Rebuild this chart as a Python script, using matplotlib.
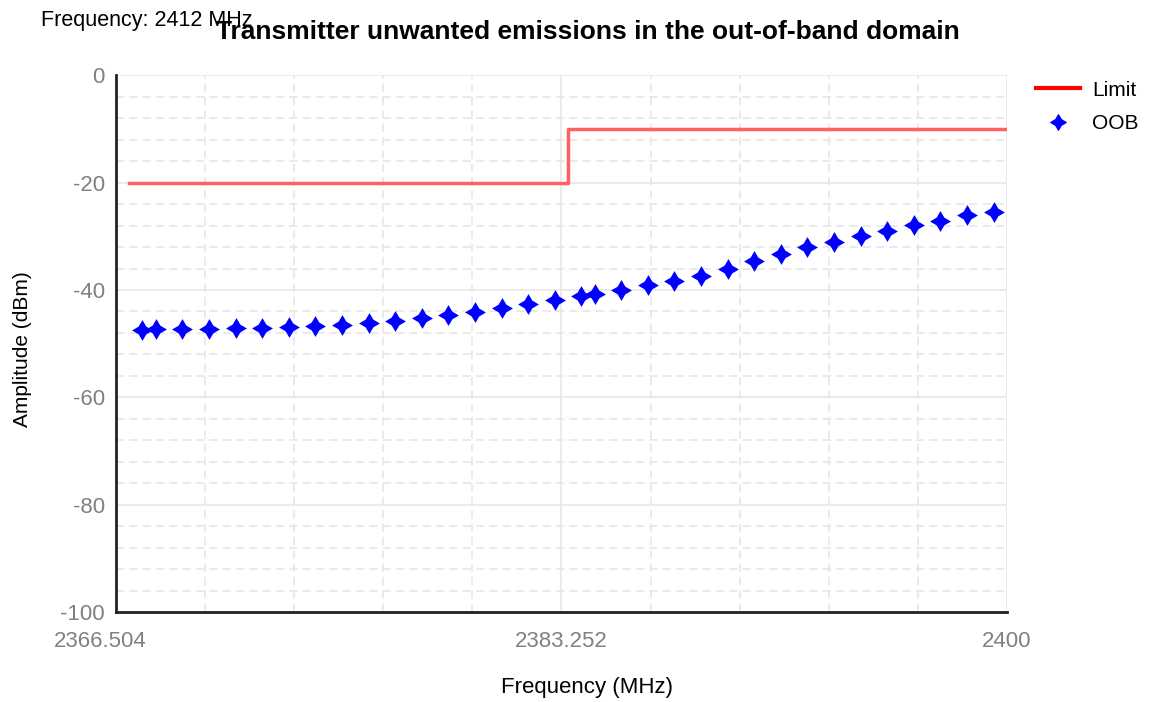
import numpy as np
import matplotlib
matplotlib.use('Agg')
import matplotlib.pyplot as plt
from matplotlib.lines import Line2D
from matplotlib.path import Path
from matplotlib.transforms import ScaledTranslation

plt.rcParams['font.family'] = ['Liberation Sans', 'DejaVu Sans']
plt.rcParams['axes.unicode_minus'] = False

# Данные
oob_freq = [2367.5, 2368, 2369, 2370, 2371, 2372, 2373, 2374, 2375, 2376, 2377,
            2378, 2379, 2380, 2381, 2382, 2383, 2384, 2384.5, 2385.5, 2386.5,
            2387.5, 2388.5, 2389.5, 2390.5, 2391.5, 2392.5, 2393.5, 2394.5,
            2395.5, 2396.5, 2397.5, 2398.5, 2399.5]
oob_amp = [-47.4, -47.3, -47.3, -47.2, -47.1, -47.0, -46.9, -46.7, -46.5, -46.2,
           -45.8, -45.3, -44.6, -44.1, -43.4, -42.6, -41.9, -41.1, -40.8, -40.0,
           -39.1, -38.4, -37.4, -36.0, -34.6, -33.2, -32.0, -31.0, -29.9, -29.0,
           -27.8, -27.1, -26.0, -25.4]

limit_freq = [2367.0, 2383.5, 2383.5, 2400.0]
limit_amp = [-20, -20, -10, -10]

x_min, x_max = 2366.504, 2400.0
x_ticks = [2366.504, 2383.252, 2400.0]
x_tick_labels = ['2366.504', '2383.252', '2400']
y_ticks = [0, -20, -40, -60, -80, -100]

# четырёхлучевая "звёздочка" как в исходнике
r = 0.37
star = Path([(0, 1), (r, r), (1, 0), (r, -r), (0, -1), (-r, -r), (-1, 0), (-r, r), (0, 1)],
            closed=True)

fig = plt.figure(figsize=(11.52, 7.02), dpi=100)
ax = fig.add_axes([0.1007, 0.1282, 0.7734, 0.7645])

ax.plot(limit_freq, limit_amp, color='#ff6060', linewidth=2.5)
ax.plot(oob_freq, oob_amp, linestyle='none', marker=star, markersize=15,
        color='blue', markeredgewidth=0)

ax.set_xlim(x_min, x_max)
ax.set_ylim(-100, 0)

# сетка: крупная сплошная, мелкая пунктирная
ax.set_xticks(x_ticks)
ax.set_xticks(np.linspace(x_min, x_max, 11), minor=True)
ax.set_yticks(y_ticks)
ax.set_yticks(np.arange(-100, 1, 4), minor=True)
ax.grid(True, which='major', color='#e8e8e8', linewidth=1.2, linestyle='-')
ax.grid(True, which='minor', color='#e6e6e6', linewidth=1.2, linestyle=(0, (5, 3)))
ax.set_axisbelow(True)

ax.tick_params(which='both', length=0)
ax.tick_params(axis='both', labelsize=16, labelcolor='#808080')
ax.tick_params(axis='x', pad=14)
ax.tick_params(axis='y', pad=8)
ax.set_xticklabels(x_tick_labels)

lbl = ax.get_xticklabels()[0]
lbl.set_transform(lbl.get_transform() + ScaledTranslation(-0.16, 0, fig.dpi_scale_trans))

for side in ['top', 'right']:
    ax.spines[side].set_visible(False)
for side in ['left', 'bottom']:
    ax.spines[side].set_linewidth(2)
    ax.spines[side].set_color('#222222')

ax.set_xlabel('Frequency (MHz)', fontsize=16)
ax.xaxis.set_label_coords(0.529, -0.122)
ax.set_ylabel('Amplitude (dBm)', fontsize=15)
ax.yaxis.set_label_coords(-0.094, 0.49)

fig.text(0.51, 0.954, 'Transmitter unwanted emissions in the out-of-band domain',
         ha='center', va='center', fontsize=19, fontweight='bold')
fig.text(0.036, 0.971, 'Frequency: 2412 MHz', ha='left', va='center', fontsize=15.5)

handles = [Line2D([], [], color='red', linewidth=3),
           Line2D([], [], linestyle='none', marker=star, markersize=11, color='blue')]
fig.legend(handles, ['Limit', 'OOB'], loc='upper left', bbox_to_anchor=(0.883, 0.912),
           frameon=False, fontsize=15, handlelength=2.1, labelspacing=0.7,
           handletextpad=0.6)

fig.savefig('out.png', dpi=100)
